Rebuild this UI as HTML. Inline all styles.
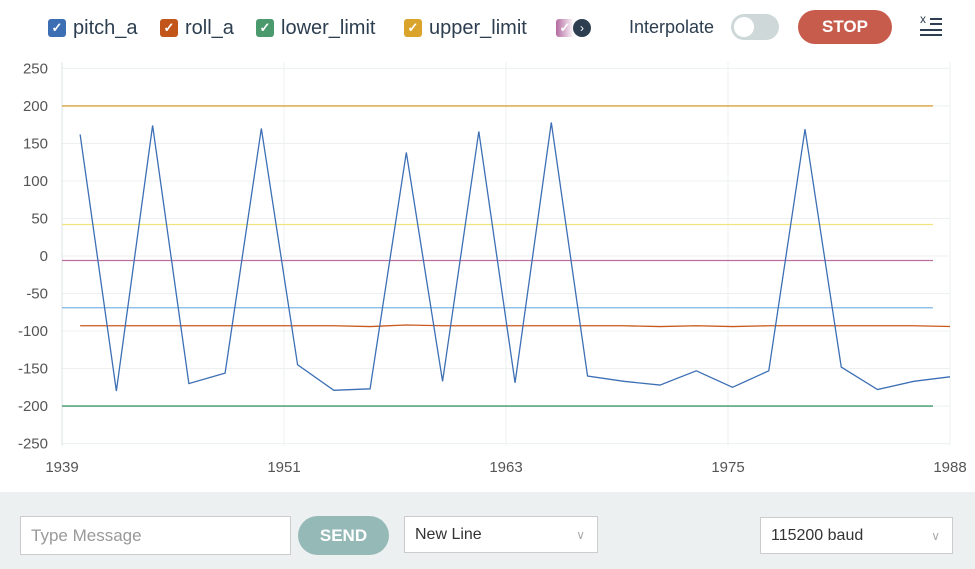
<!DOCTYPE html>
<html><head><meta charset="utf-8"><style>
body{margin:0;width:975px;height:569px;overflow:hidden;background:#fff;font-family:"Liberation Sans",sans-serif;position:relative}
.leg{position:absolute;top:15px;height:26px;display:flex;align-items:center;font-size:20px;color:#2c3e50}
.cb{width:18px;height:18px;border-radius:3px;color:#fff;font-size:13px;display:flex;align-items:center;justify-content:center;margin-right:7px;font-weight:bold}
#bottom{position:absolute;left:0;top:492px;width:975px;height:77px;background:#ecf0f1}
.box{position:absolute;background:#fff;border:1px solid #ccc;box-sizing:border-box;font-size:17px;color:#333;display:flex;align-items:center;padding-left:10px}
</style></head><body>
<div class="leg" style="left:48px"><div class="cb" style="background:#3c6eb4">✓</div>pitch_a</div>
<div class="leg" style="left:160px"><div class="cb" style="background:#c2561a">✓</div>roll_a</div>
<div class="leg" style="left:256px"><div class="cb" style="background:#4a9a6e">✓</div>lower_limit</div>
<div class="leg" style="left:404px"><div class="cb" style="background:#daa32c">✓</div>upper_limit</div>
<div class="leg" style="left:556px"><div class="cb" style="background:linear-gradient(90deg,#b46aa0,#fff)">✓</div><div style="position:absolute;left:17px;width:18px;height:18px;border-radius:9px;background:#2c3e50;color:#fff;font-size:12px;display:flex;align-items:center;justify-content:center">›</div></div>
<div style="position:absolute;left:629px;top:17px;font-size:18px;color:#2c3e50">Interpolate</div>
<div style="position:absolute;left:731px;top:14px;width:48px;height:26px;border-radius:13px;background:#cfd8d8"><div style="position:absolute;left:3px;top:3px;width:20px;height:20px;border-radius:10px;background:#fff"></div></div>
<div style="position:absolute;left:798px;top:10px;width:94px;height:34px;border-radius:17px;background:#c75c4c;color:#fff;font-weight:bold;font-size:17px;display:flex;align-items:center;justify-content:center">STOP</div>
<div style="position:absolute;left:920px;top:15px;width:24px;height:24px">
<div style="position:absolute;left:0;top:-3px;font-size:12px;color:#2c3e50">x</div>
<div style="position:absolute;left:10px;top:3px;width:12px;height:2px;background:#2c3e50"></div>
<div style="position:absolute;left:10px;top:8px;width:12px;height:2px;background:#2c3e50"></div>
<div style="position:absolute;left:0;top:14px;width:22px;height:2px;background:#2c3e50"></div>
<div style="position:absolute;left:0;top:19px;width:22px;height:2px;background:#2c3e50"></div>
</div>
<svg id="chart" width="975" height="492" style="position:absolute;left:0;top:0"></svg>
<div id="bottom"></div>
<div class="box" style="left:20px;top:516px;width:271px;height:39px;color:#999">Type Message</div>
<div style="position:absolute;left:298px;top:516px;width:91px;height:39px;border-radius:20px;background:#95b9b7;color:#fff;font-weight:bold;font-size:17px;display:flex;align-items:center;justify-content:center">SEND</div>
<div class="box" style="left:404px;top:516px;width:194px;height:37px;font-size:16px">New Line<span style="position:absolute;right:12px;color:#aaa;font-size:12px">∨</span></div>
<div class="box" style="left:760px;top:517px;width:193px;height:37px;font-size:16px">115200 baud<span style="position:absolute;right:12px;color:#aaa;font-size:12px">∨</span></div>
<script>
const years=[1940,1942,1944,1946,1948,1950,1952,1954,1956,1958,1960,1962,1964,1966,1968,1970,1972,1974,1976,1978,1980,1982,1984,1986,1988];
const pitchA=[162,-180,174,-170,-156,170,-145,-179,-177,138,-167,166,-169,178,-160,-167,-172,-153,-175,-153,169,-148,-178,-167,-161];
const rollA=[-93,-93,-93,-93,-93,-93,-93,-93,-94,-92,-93,-93,-93,-93,-93,-93,-94,-93,-94,-93,-93,-93,-93,-93,-94];
const flatYears=[1939,1988];
const upperLimit=[200,200];
const lowerLimit=[-200,-200];
const series5=[42,42];
const series6=[-6,-6];
const series7=[-69,-69];
const yTicks=[250,200,150,100,50,0,-50,-100,-150,-200,-250];
const xTicks=[1939,1951,1963,1975,1988];
const X=v=>62+(v-1939)*(950-62)/49;
const Y=v=>256-(v)*0.7504;
const svg=document.getElementById('chart');
const NS='http://www.w3.org/2000/svg';
function mk(t,a){const e=document.createElementNS(NS,t);for(const k in a)e.setAttribute(k,a[k]);svg.appendChild(e);return e;}
yTicks.forEach(t=>{const l=mk('line',{x1:62,x2:950,y1:Y(t),y2:Y(t),stroke:'#ecf0f1'});


const tx=mk('text',{x:48,y:Y(t)+5,'text-anchor':'end','font-size':15,fill:'#555'});tx.textContent=t;

});
const x0=X(xTicks[0]),x1=X(xTicks[xTicks.length-1]);
xTicks.forEach((t,i)=>{const px=x0+i*(x1-x0)/(xTicks.length-1);
const l=mk('line',{x1:px,x2:px,y1:62,y2:446,stroke:'#ecf0f1'});


const tx=mk('text',{x:px,y:472,'text-anchor':'middle','font-size':15,fill:'#555'});tx.textContent=t;

});
const ax=mk('line',{x1:62,x2:62,y1:62,y2:446,stroke:'#dde3e3'});


function line(xs,ys,c,name,w,x2){const p=mk('polyline',{points:xs.map((x,i)=>(x2&&i==xs.length-1?933:X(x))+','+Y(ys[i])).join(' '),fill:'none',stroke:c,'stroke-width':w||1.3});

}
line(flatYears,upperLimit,'#d9a23a','upper-limit-line',1.3,true);
line(flatYears,series5,'#f2e47a','series-5-line',1.3,true);
line(flatYears,series6,'#b8709e','series-6-line',1.3,true);
line(flatYears,series7,'#7eb6e6','series-7-line',1.3,true);
line(flatYears,lowerLimit,'#5aa57e','lower-limit-line',1.6,true);
line(years,rollA,'#c9581c','roll-a-line');
line(years,pitchA,'#3d6fb5','pitch-a-line');
</script>
</body></html>
